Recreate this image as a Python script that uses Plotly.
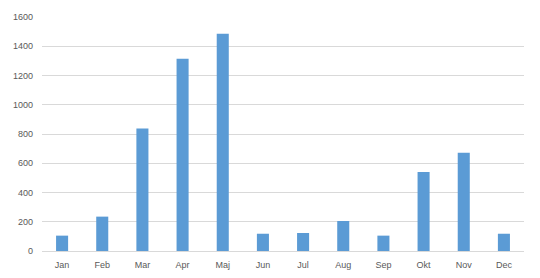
import plotly.graph_objects as go

months = ["Jan", "Feb", "Mar", "Apr", "Maj", "Jun", "Jul", "Aug", "Sep", "Okt", "Nov", "Dec"]
values = [105, 235, 838, 1315, 1485, 118, 123, 205, 105, 540, 672, 118]
y_ticks = [0, 200, 400, 600, 800, 1000, 1200, 1400, 1600]

fig = go.Figure(go.Bar(x=months, y=values, marker_color="#5B9BD5", marker_line_width=0))

fig.update_layout(
    width=540, height=278,
    margin=dict(l=42, r=16, t=17, b=27, autoexpand=False),
    paper_bgcolor="white", plot_bgcolor="white",
    bargap=0.70,
    showlegend=False,
    font=dict(family="Liberation Sans", size=9, color="#595959"),
)
fig.update_xaxes(showline=True, linecolor="#D9D9D9", linewidth=1, showgrid=False,
                 ticks="", ticklabelstandoff=5, automargin=False)
fig.update_yaxes(range=[0, 1600], tickvals=y_ticks, showgrid=True, gridcolor="#D9D9D9",
                 gridwidth=1, zeroline=False, showline=False, ticks="", ticklabelstandoff=8,
                 automargin=False)

fig.write_html("out.html")
